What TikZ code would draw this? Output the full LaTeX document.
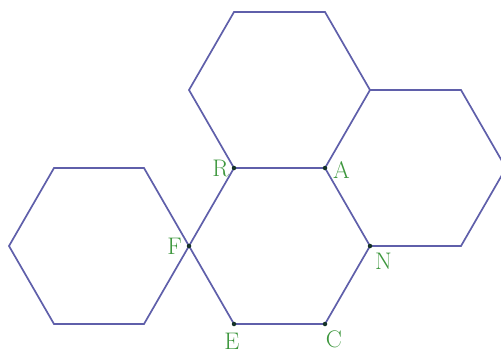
\documentclass[tikz,border=0pt]{standalone}
\begin{document}
\begin{tikzpicture}[x=1pt,y=-1pt,
  hexline/.style={draw={rgb,255:red,95;green,95;blue,170},line width=1.7pt,line join=miter},
  ptdot/.style={circle,fill={rgb,255:red,20;green,50;blue,40},inner sep=0pt,minimum size=4.5pt},
  lbl/.style={text={rgb,255:red,60;green,150;blue,60},font=\fontsize{24}{24}\selectfont,inner sep=0pt}]
\useasboundingbox (0,0) rectangle (501,356);
% central hexagon vertices
\coordinate (R) at (234,168);
\coordinate (A) at (325,168);
\coordinate (N) at (370,246);
\coordinate (C) at (325,324);
\coordinate (E) at (234,324);
\coordinate (F) at (189,246);
% top hexagon
\coordinate (T1) at (370,90);
\coordinate (T2) at (325,12);
\coordinate (T3) at (234,12);
\coordinate (T4) at (189,90);
% right hexagon
\coordinate (Q1) at (461,90);
\coordinate (Q2) at (506,168);
\coordinate (Q3) at (461,246);
% left hexagon
\coordinate (L1) at (144,168);
\coordinate (L2) at (54,168);
\coordinate (L3) at (9,246);
\coordinate (L4) at (54,324);
\coordinate (L5) at (144,324);
\draw[hexline] (R) -- (A) -- (N) -- (C) -- (E) -- (F) -- cycle;
\draw[hexline] (R) -- (T4) -- (T3) -- (T2) -- (T1) -- (A);
\draw[hexline] (T1) -- (Q1) -- (Q2) -- (Q3) -- (N);
\draw[hexline] (F) -- (L1) -- (L2) -- (L3) -- (L4) -- (L5) -- cycle;
\foreach \p in {R,A,N,C,E,F} \node[ptdot] (d\p) at (\p) {};
\node[lbl,anchor=east] (lR) at (229,168) {R};
\node[lbl,anchor=west] (lA) at (333,170) {A};
\node[lbl,anchor=east] (lF) at (182,246) {F};
\node[lbl,anchor=north west] (lN) at (375,253) {N};
\node[lbl,anchor=north] (lE) at (232,333) {E};
\node[lbl,anchor=north] (lC) at (334,331) {C};
\end{tikzpicture}
\end{document}
